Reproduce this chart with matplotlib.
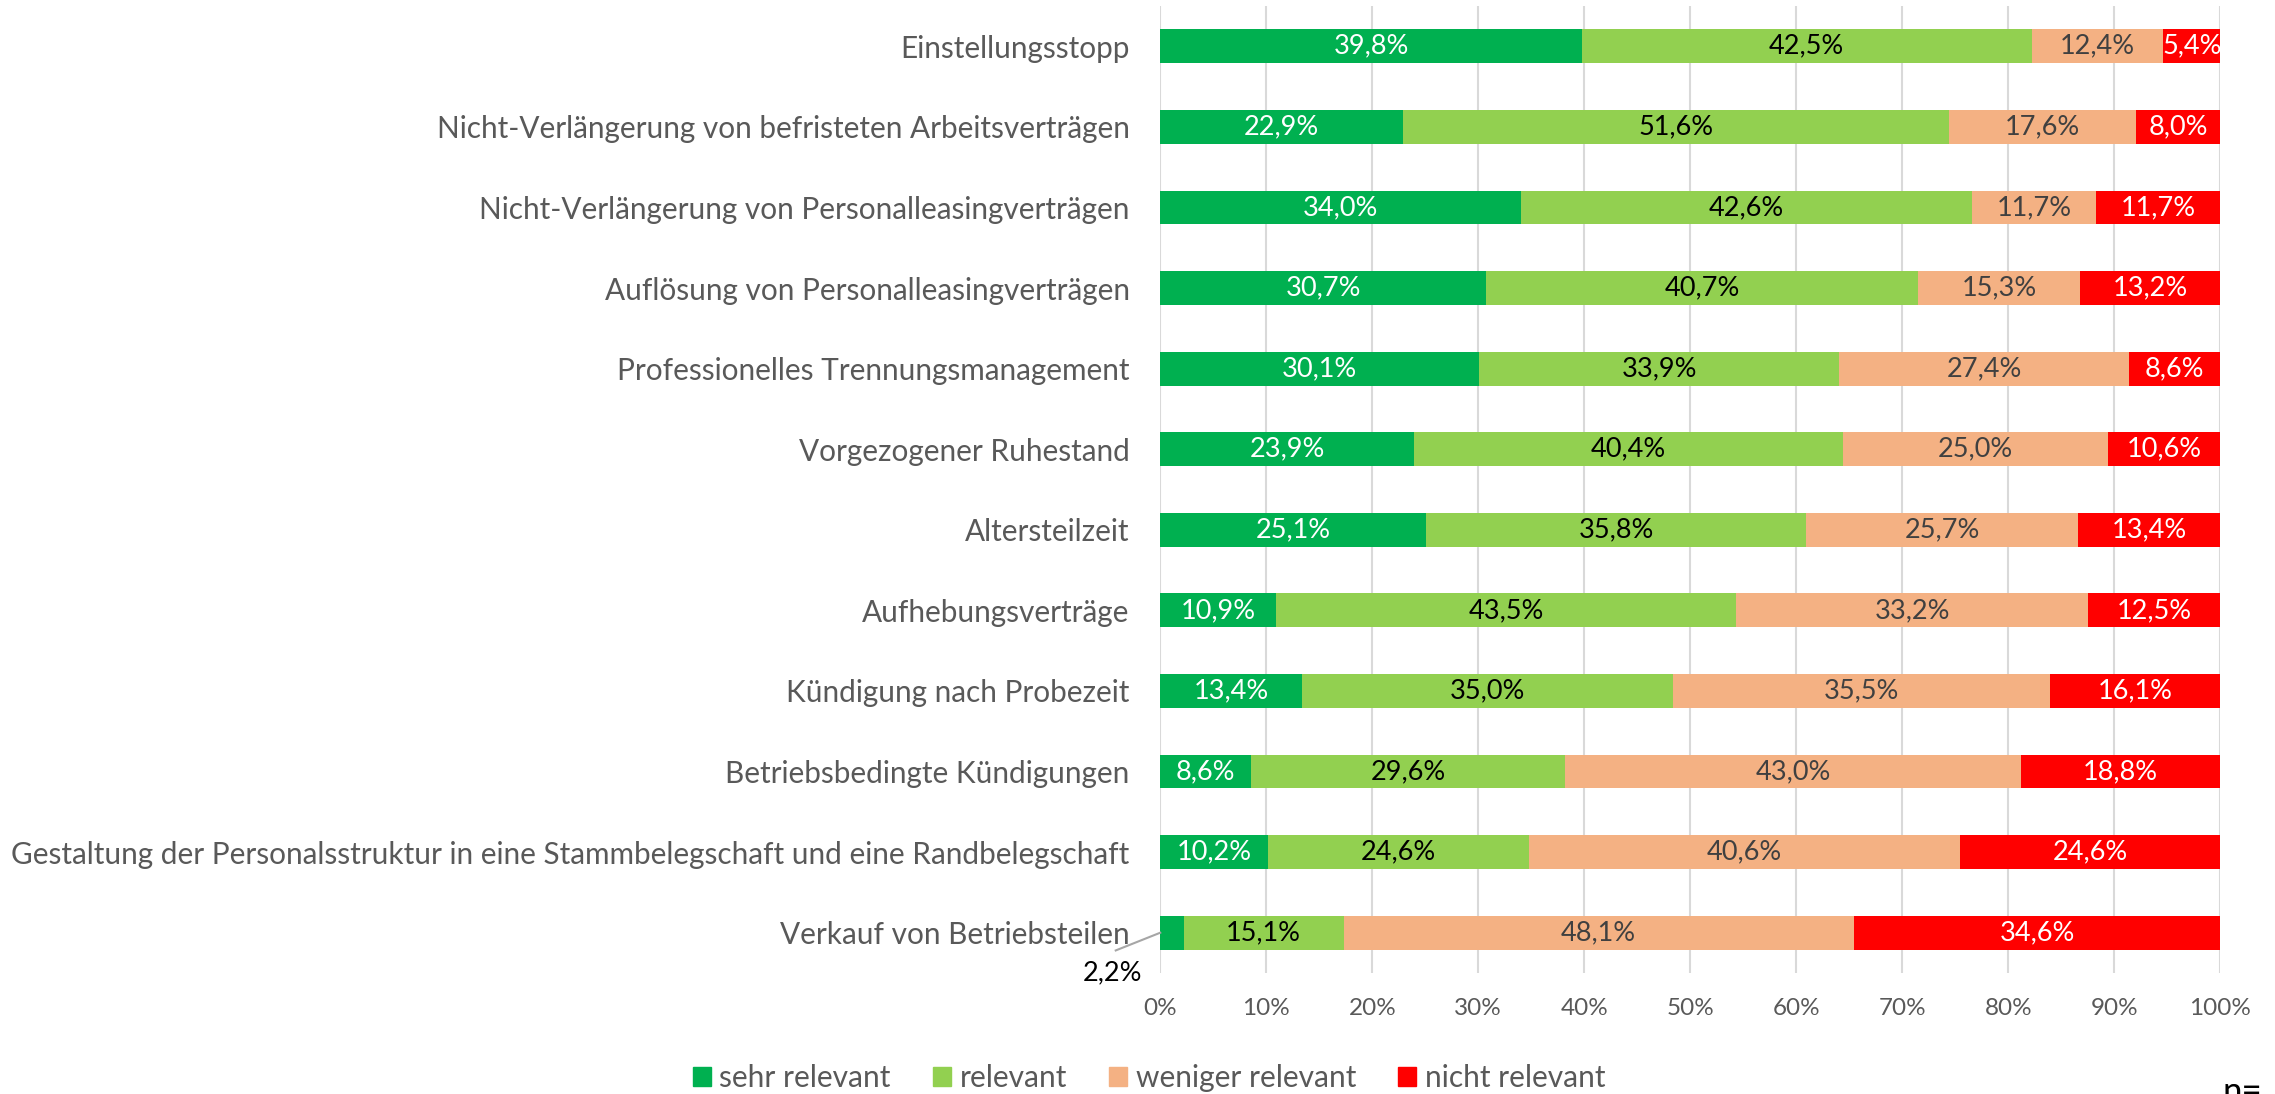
import numpy as np
import matplotlib.pyplot as plt
from matplotlib.patches import Patch

plt.rcParams['font.family'] = ['Lato', 'DejaVu Sans']

#   Categories, top to bottom
categories = [
    "Einstellungsstopp",
    "Nicht-Verlängerung von befristeten Arbeitsverträgen",
    "Nicht-Verlängerung von Personalleasingverträgen",
    "Auflösung von Personalleasingverträgen",
    "Professionelles Trennungsmanagement",
    "Vorgezogener Ruhestand",
    "Altersteilzeit",
    "Aufhebungsverträge",
    "Kündigung nach Probezeit",
    "Betriebsbedingte Kündigungen",
    "Gestaltung der Personalsstruktur in eine Stammbelegschaft und eine Randbelegschaft",
    "Verkauf von Betriebsteilen",
]
sehr_relevant = [39.8, 22.9, 34.0, 30.7, 30.1, 23.9, 25.1, 10.9, 13.4, 8.6, 10.2, 2.2]
relevant = [42.5, 51.6, 42.6, 40.7, 33.9, 40.4, 35.8, 43.5, 35.0, 29.6, 24.6, 15.1]
weniger_relevant = [12.4, 17.6, 11.7, 15.3, 27.4, 25.0, 25.7, 33.2, 35.5, 43.0, 40.6, 48.1]
nicht_relevant = [5.4, 8.0, 11.7, 13.2, 8.6, 10.6, 13.4, 12.5, 16.1, 18.8, 24.6, 34.6]

series_names = ["sehr relevant", "relevant", "weniger relevant", "nicht relevant"]
colors = ["#00B050", "#92D050", "#F4B183", "#FF0000"]
label_colors = ["white", "black", "#404040", "white"]

data = np.array([sehr_relevant, relevant, weniger_relevant, nicht_relevant])
shares = data / data.sum(axis=0) * 100   # 100% stacked

fig = plt.figure(figsize=(22.75, 10.94), dpi=100)
ax = fig.add_axes([0.51, 0.1106, 0.466, 0.8839])

y = np.arange(len(categories))
left = np.zeros(len(categories))
fs = 19.5
for k in range(4):
    bars = ax.barh(y, shares[k], left=left, height=0.42, color=colors[k],
                   label=series_names[k], zorder=3)
    for i, b in enumerate(bars):
        if k == 0 and data[k][i] < 3:
            continue
        txt = f"{data[k][i]:.1f}%".replace(".", ",")
        ax.text(left[i] + shares[k][i] / 2, y[i], txt, ha='center', va='center',
                color=label_colors[k], fontsize=fs, zorder=4)
    left += shares[k]

#   small segment label with leader line
i_small = len(categories) - 1
ax.plot([-4.2, 0], [11.22, 11.0], color="#A6A6A6", lw=1.5, clip_on=False, zorder=4)
ax.text(-4.5, 11.5, f"{sehr_relevant[i_small]:.1f}%".replace(".", ","),
        ha='center', va='center', fontsize=fs, color='black')

ax.set_xlim(0, 100)
ax.set_ylim(11.5, -0.5)
ax.set_yticks(y)
ax.set_yticklabels(categories, fontsize=21.4, color="#595959")
ax.set_xticks(np.arange(0, 101, 10))
ax.set_xticklabels([f"{v}%" for v in range(0, 101, 10)], fontsize=17.5, color="#595959")
ax.tick_params(axis='both', length=0)
ax.tick_params(axis='y', pad=22)
ax.tick_params(axis='x', pad=18)
ax.grid(axis='x', color="#D9D9D9", lw=1.5, zorder=0)
for s in ax.spines.values():
    s.set_visible(False)

handles = [Patch(color=c) for c in colors]
fig.legend(handles, series_names, loc='center', bbox_to_anchor=(0.505, 0.015),
           ncol=4, frameon=False, fontsize=21.5, labelcolor="#595959",
           handlelength=0.6, handleheight=0.6, handletextpad=0.3, columnspacing=1.4)

fig.text(0.977, -0.007, "n=", fontsize=25, va='baseline', ha='left', color='black')

fig.savefig("out.png", dpi=100)
